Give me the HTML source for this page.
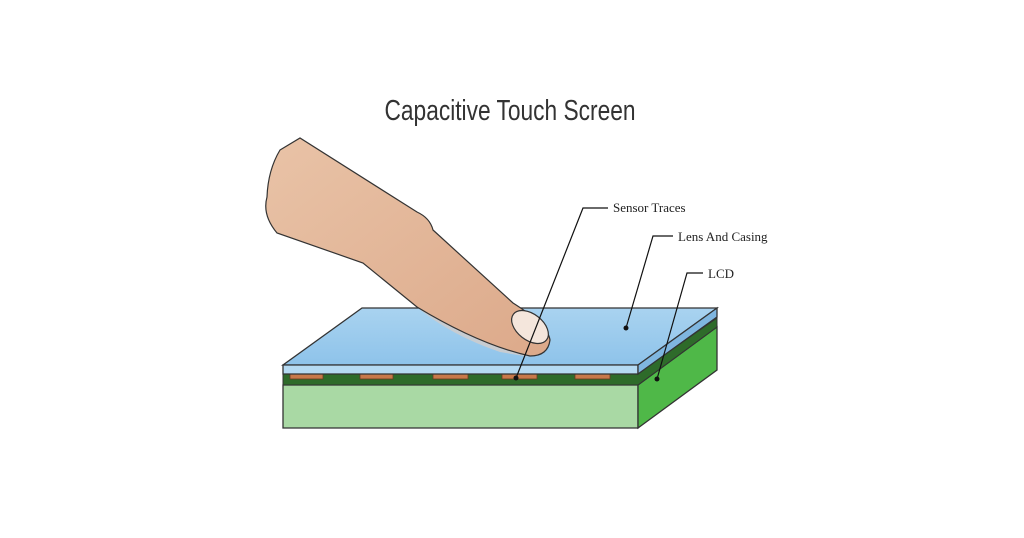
<!DOCTYPE html>
<html><head><style>html,body{margin:0;padding:0;background:#fff}svg{display:block}</style></head>
<body>
<svg width="1024" height="538" viewBox="0 0 1024 538" xmlns="http://www.w3.org/2000/svg">
<defs>
<linearGradient id="gl" x1="0" y1="0" x2="0" y2="1"><stop offset="0" stop-color="#a9d3f0"/><stop offset="1" stop-color="#8ec3ea"/></linearGradient>
<linearGradient id="sk" x1="0" y1="0" x2="1" y2="1"><stop offset="0" stop-color="#e9c3a7"/><stop offset="1" stop-color="#dca98a"/></linearGradient>
</defs>
<text x="510" y="120" text-anchor="middle" font-family="Liberation Sans Narrow, Liberation Sans, sans-serif" font-size="29" fill="#333" textLength="251" lengthAdjust="spacingAndGlyphs">Capacitive Touch Screen</text>
<!-- green base -->
<polygon points="283,385 638,385 638,428 283,428" fill="#a9d9a4" stroke="#333" stroke-width="1.3"/>
<polygon points="638,385 717,327 717,370 638,428" fill="#4fb848" stroke="#333" stroke-width="1.3"/>
<polygon points="283,373 638,373 717,318 717,327 638,385 283,385" fill="#2e6b2a" stroke="#333" stroke-width="1"/>
<!-- pads -->
<g fill="#c8794a" stroke="#6b3a20" stroke-width="0.8">
<rect x="290" y="374" width="33" height="5"/><rect x="360" y="374" width="33" height="5"/><rect x="433" y="374" width="35" height="5"/><rect x="502" y="374" width="35" height="5"/><rect x="575" y="374" width="35" height="5"/>
</g>
<!-- glass -->
<polygon points="362,308 717,308 638,365 283,365" fill="url(#gl)" stroke="#333" stroke-width="1.3"/>
<polygon points="283,365 638,365 638,374 283,374" fill="#b5daf2" stroke="#333" stroke-width="1.3"/>
<polygon points="638,365 717,308 717,317 638,374" fill="#7fb6e0" stroke="#333" stroke-width="1.3"/>
<!-- finger shadow -->
<path d="M417,307 Q470,340 530,357 L500,352 Q450,335 417,307Z" fill="#c7ccd1"/>
<!-- finger -->
<path d="M280,150 L300,138 L417,212 Q430,218 433,230 L513,303 Q548,325 550,340 Q548,356 530,356 Q480,345 417,307 L363,263 L277,233 Q262,215 267,197 Q268,170 280,150Z" fill="url(#sk)" stroke="#333" stroke-width="1.2"/>
<ellipse cx="530" cy="327" rx="21" ry="13" transform="rotate(38 530 327)" fill="#f4e6dc" stroke="#333" stroke-width="1.2"/>
<!-- leaders -->
<g stroke="#111" stroke-width="1.2" fill="none">
<polyline points="516,378 583,208 608,208"/>
<polyline points="626,328 653,236 673,236"/>
<polyline points="657,379 687,273 703,273"/>
</g>
<g fill="#111"><circle cx="516" cy="378" r="2.5"/><circle cx="626" cy="328" r="2.5"/><circle cx="657" cy="379" r="2.5"/></g>
<g font-family="Liberation Serif, serif" font-size="13" fill="#222">
<text x="613" y="212">Sensor Traces</text>
<text x="678" y="241">Lens And Casing</text>
<text x="708" y="278">LCD</text>
</g>
</svg>
</body></html>
